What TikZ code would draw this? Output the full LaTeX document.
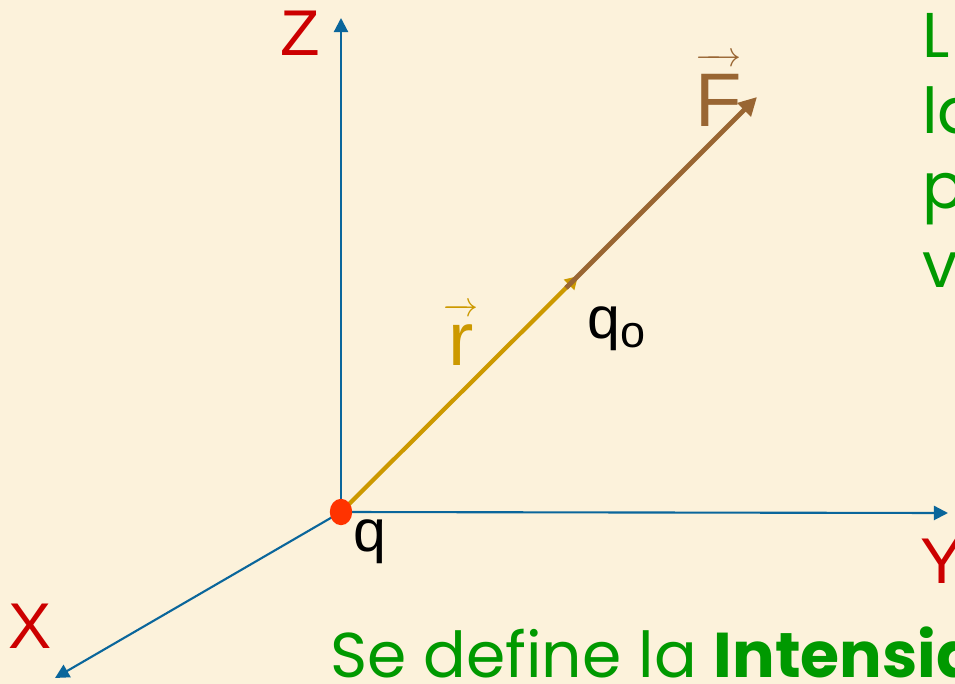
\documentclass[tikz,border=0pt]{standalone}
\usepackage{fontspec}
\setmainfont{Liberation Sans}
\newfontfamily\manofont{Poppins}
\usetikzlibrary{arrows.meta,positioning,shapes.geometric}
\definecolor{pergamino}{RGB}{252,242,219}
\definecolor{ejeazul}{RGB}{10,102,155}
\definecolor{rojoeje}{RGB}{204,0,0}
\definecolor{oro}{RGB}{204,153,0}
\definecolor{cafe}{RGB}{153,102,51}
\definecolor{verdetxt}{RGB}{0,153,0}
\definecolor{rojopunto}{RGB}{255,51,0}

\begin{document}
\begin{tikzpicture}[x=0.025cm, y=-0.025cm,
      eje/.style={ejeazul, line width=1.5pt, -{Triangle[length=10pt, width=10pt]}},
      ejelbl/.style={rojoeje, font=\fontsize{46}{46}\selectfont, inner sep=0pt},
      cargalbl/.style={black, font=\fontsize{42}{42}\selectfont, inner sep=0pt, anchor=base west},
      veclbl/.style={font=\fontsize{54}{54}\selectfont, inner sep=0pt, anchor=base west},
      verde/.style={verdetxt, font=\manofont\fontsize{45}{54}\selectfont, inner sep=0pt, anchor=base west}]
    \useasboundingbox (0,0) rectangle (955,684);
    \fill[pergamino] (0,0) rectangle (955,684);
    \clip (0,0) rectangle (955,684);
    % ejes desde la carga fuente
    \coordinate (o) at (341,512);
    \coordinate (zfin) at (341,18);
    \coordinate (yfin) at (948,513);
    \coordinate (xfin) at (55,678);
    \draw[eje] (o) -- (zfin);
    \draw[eje] (o) -- (yfin);
    \draw[eje] (o) -- (xfin);
    \node[ejelbl] (zlbl) at (300,33) {Z};
    \node[ejelbl, anchor=west] (ylbl) at (920,561) {Y};
    \node[ejelbl] (xlbl) at (30,626) {X};
    % vector posicion y fuerza
    \coordinate (rtip) at (578,276);
    \coordinate (fini) at (566,288);
    \coordinate (ftip) at (757,97);
    \draw[oro, line width=3pt, -{Triangle[length=9pt, width=10pt]}] (o) -- (rtip);
    \draw[cafe, line width=3.5pt, -{Triangle[length=13pt, width=13pt]}] (fini) -- (ftip);
    \node[ellipse, fill=rojopunto, minimum width=0.56cm, minimum height=0.66cm, inner sep=0pt] (carga) at (o) {};
    \node[veclbl, oro] (rlbl) at (443,365) {$\overrightarrow{\mbox{\rule{0pt}{0.66em}r}}$};
    \node[veclbl, cafe] (flbl) at (695,126) {$\overrightarrow{\mbox{\rule{0pt}{0.8em}F}}$};
    \node[cargalbl] (qlbl) at (353,551) {q};
    \node[cargalbl] (q0lbl) at (587,338) {q\raisebox{-7pt}{\fontsize{32}{32}\selectfont o}};
    % texto verde (cortado por el borde)
    \foreach \t/\yb/\k in {L/57/1, la/133/2, p/208/3, v/287/4}
      \node[verde] (lin\k) at (922,\yb) {\t};
    \node[verde] (defin) at (330,677) {Se define la \textbf{Intensidad}};
  \end{tikzpicture}
\end{document}
